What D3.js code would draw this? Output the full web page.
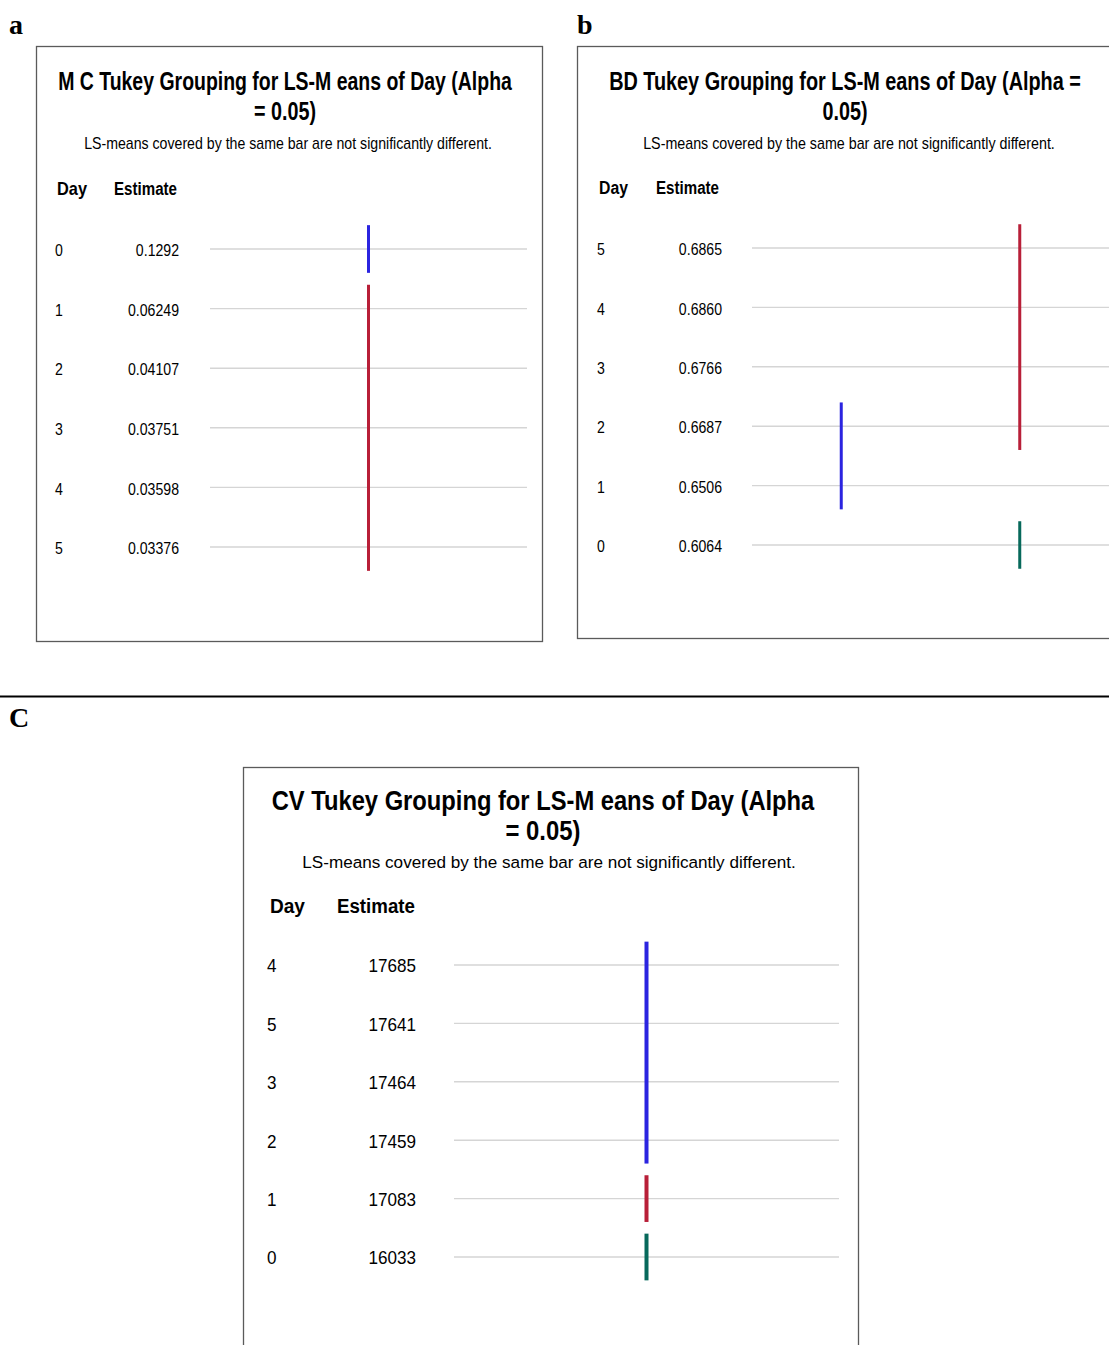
<!DOCTYPE html>
<html>
<head>
<meta charset="utf-8">
<script src="https://cdn.jsdelivr.net/npm/d3@7"></script>
<style>
  html, body { margin: 0; padding: 0; background: #fff; }
  svg { display: block; }
</style>
</head>
<body>
<script>
// ---- Data: Tukey groupings of LS-means by day ----
const mcDays = ["0", "1", "2", "3", "4", "5"];
const mcEstimates = ["0.1292", "0.06249", "0.04107", "0.03751", "0.03598", "0.03376"];
const mcGroups = [
  { letter: "A", first: 0, last: 0, lane: 0 },
  { letter: "B", first: 1, last: 5, lane: 0 }
];

const bdDays = ["5", "4", "3", "2", "1", "0"];
const bdEstimates = ["0.6865", "0.6860", "0.6766", "0.6687", "0.6506", "0.6064"];
const bdGroups = [
  { letter: "A", first: 0, last: 3, lane: 1 },
  { letter: "B", first: 3, last: 4, lane: 0 },
  { letter: "C", first: 5, last: 5, lane: 1 }
];

const cvDays = ["4", "5", "3", "2", "1", "0"];
const cvEstimates = ["17685", "17641", "17464", "17459", "17083", "16033"];
const cvGroups = [
  { letter: "A", first: 0, last: 3, lane: 0 },
  { letter: "B", first: 4, last: 4, lane: 0 },
  { letter: "C", first: 5, last: 5, lane: 0 }
];

const headerLabels = ["Day", "Estimate"];
const subtitleText = "LS-means covered by the same bar are not significantly different.";

// ---- Page ----
const W = 1109, H = 1345;
const svg = d3.select("body").append("svg")
  .attr("width", W).attr("height", H)
  .attr("viewBox", `0 0 ${W} ${H}`);

const SANS = "'Liberation Sans', Arial, Helvetica, sans-serif";
const SERIF = "'Liberation Serif', 'Times New Roman', serif";
const BLUE = "#2b24e0", RED = "#b81f38", GREEN = "#07695b";

// text squeezed horizontally, either to a target width or by a fixed factor
function squeezed(parent, str, x, y, opts) {
  const t = parent.append("text")
    .attr("x", 0).attr("y", 0)
    .attr("text-anchor", opts.anchor || "start")
    .style("font-family", SANS)
    .style("font-size", opts.size + "px")
    .style("font-weight", opts.bold ? "bold" : "normal")
    .attr("fill", "#000")
    .text(str);
  let k = opts.k || 1;
  if (opts.width) {
    const natural = t.node().getComputedTextLength();
    if (natural > 0) k = opts.width / natural;
  }
  t.attr("transform", `translate(${x},${y}) scale(${k},1)`);
  return t;
}

function drawPanel(cfg, days, estimates, groups) {
  const g = svg.append("g");

  // frame
  g.append("rect")
    .attr("x", cfg.box.x + 0.5).attr("y", cfg.box.y + 0.5)
    .attr("width", cfg.box.w).attr("height", cfg.box.h)
    .attr("fill", "#fff").attr("stroke", "#5a5a5a").attr("stroke-width", 1.3);

  // title (two lines), subtitle
  squeezed(g, cfg.title[0], cfg.titleCx, cfg.titleY[0],
    { anchor: "middle", size: cfg.titleSize, bold: true, width: cfg.titleW[0] });
  squeezed(g, cfg.title[1], cfg.titleCx, cfg.titleY[1],
    { anchor: "middle", size: cfg.titleSize, bold: true, width: cfg.titleW[1] });
  squeezed(g, subtitleText, cfg.subCx, cfg.subY,
    { anchor: "middle", size: cfg.subSize, width: cfg.subW });

  // column headers
  squeezed(g, headerLabels[0], cfg.dayX, cfg.headY,
    { size: cfg.headSize, bold: true, width: cfg.headW[0] });
  squeezed(g, headerLabels[1], cfg.estHeadX, cfg.headY,
    { size: cfg.headSize, bold: true, width: cfg.headW[1] });

  // row scale
  const idx = d3.range(days.length);
  const y = d3.scalePoint().domain(idx).range([cfg.rowY0, cfg.rowY1]);
  const step = y.step();

  // lane scale for grouping bars
  const laneCount = d3.max(groups, d => d.lane) + 1;
  const x = d3.scalePoint().domain(d3.range(laneCount))
    .range([cfg.gridX0, cfg.gridX1]).padding(0.5);

  // grid lines
  g.append("g").selectAll("line").data(idx).join("line")
    .attr("x1", cfg.gridX0).attr("x2", cfg.gridX1)
    .attr("y1", d => y(d)).attr("y2", d => y(d))
    .attr("stroke", "#d5d5d5").attr("stroke-width", 1.4);

  // row labels
  idx.forEach(i => {
    const by = y(i) + cfg.rowSize * 0.36 + 1;
    squeezed(g, days[i], cfg.dayLabelX, by, { size: cfg.rowSize, k: cfg.k });
    squeezed(g, estimates[i], cfg.estRightX, by, { size: cfg.rowSize, k: cfg.k, anchor: "end" });
  });

  // grouping bars
  g.append("g").selectAll("rect").data(groups).join("rect")
    .attr("x", d => x(d.lane) - cfg.barW / 2)
    .attr("width", cfg.barW)
    .attr("y", d => y(d.first) - step * 0.4)
    .attr("height", d => y(d.last) - y(d.first) + step * 0.8)
    .attr("fill", d => cfg.colors[d.letter]);
}

// ---- Panel a: MC ----
drawPanel({
  box: { x: 36, y: 46, w: 506, h: 595 },
  title: ["M C Tukey Grouping for LS-M eans of Day (Alpha", "= 0.05)"],
  titleCx: 285, titleY: [90, 120], titleW: [454, 62], titleSize: 26,
  subCx: 288, subY: 149, subW: 408, subSize: 16,
  headY: 195, headSize: 19, dayX: 57, estHeadX: 114, headW: [30, 63],
  rowY0: 249, rowY1: 547, rowSize: 17, k: 0.83,
  dayLabelX: 55, estRightX: 179,
  gridX0: 210, gridX1: 527, barW: 3,
  colors: { A: BLUE, B: RED }
}, mcDays, mcEstimates, mcGroups);

// ---- Panel b: BD ----
drawPanel({
  box: { x: 577, y: 46, w: 548, h: 592 },
  title: ["BD Tukey Grouping for LS-M eans of Day (Alpha =", "0.05)"],
  titleCx: 845, titleY: [90, 120], titleW: [472, 45], titleSize: 26,
  subCx: 849, subY: 149, subW: 412, subSize: 16,
  headY: 194, headSize: 19, dayX: 599, estHeadX: 656, headW: [29, 63],
  rowY0: 248, rowY1: 545, rowSize: 17, k: 0.83,
  dayLabelX: 597, estRightX: 722,
  gridX0: 752, gridX1: 1109, barW: 3,
  colors: { A: RED, B: BLUE, C: GREEN }
}, bdDays, bdEstimates, bdGroups);

// ---- Panel c: CV ----
drawPanel({
  box: { x: 243, y: 767, w: 615, h: 620 },
  title: ["CV Tukey Grouping for LS-M eans of Day (Alpha", "= 0.05)"],
  titleCx: 543, titleY: [810, 840], titleW: [543, 75], titleSize: 28,
  subCx: 549, subY: 868, subW: 494, subSize: 17,
  headY: 913, headSize: 21, dayX: 270, estHeadX: 337, headW: [35, 78],
  rowY0: 965, rowY1: 1257, rowSize: 18, k: 0.95,
  dayLabelX: 267, estRightX: 416,
  gridX0: 454, gridX1: 839, barW: 4,
  colors: { A: BLUE, B: RED, C: GREEN }
}, cvDays, cvEstimates, cvGroups);

// ---- separator between the top row and panel c ----
svg.append("line")
  .attr("x1", 0).attr("x2", W).attr("y1", 696.5).attr("y2", 696.5)
  .attr("stroke", "#000").attr("stroke-width", 2);

// ---- panel letters ----
const letters = [
  { t: "a", x: 9, y: 34 },
  { t: "b", x: 577, y: 34 },
  { t: "C", x: 9, y: 727 }
];
svg.append("g").selectAll("text").data(letters).join("text")
  .attr("x", d => d.x).attr("y", d => d.y)
  .style("font-family", SERIF).style("font-weight", "bold").style("font-size", "28px")
  .attr("fill", "#000")
  .text(d => d.t);
</script>
</body>
</html>
